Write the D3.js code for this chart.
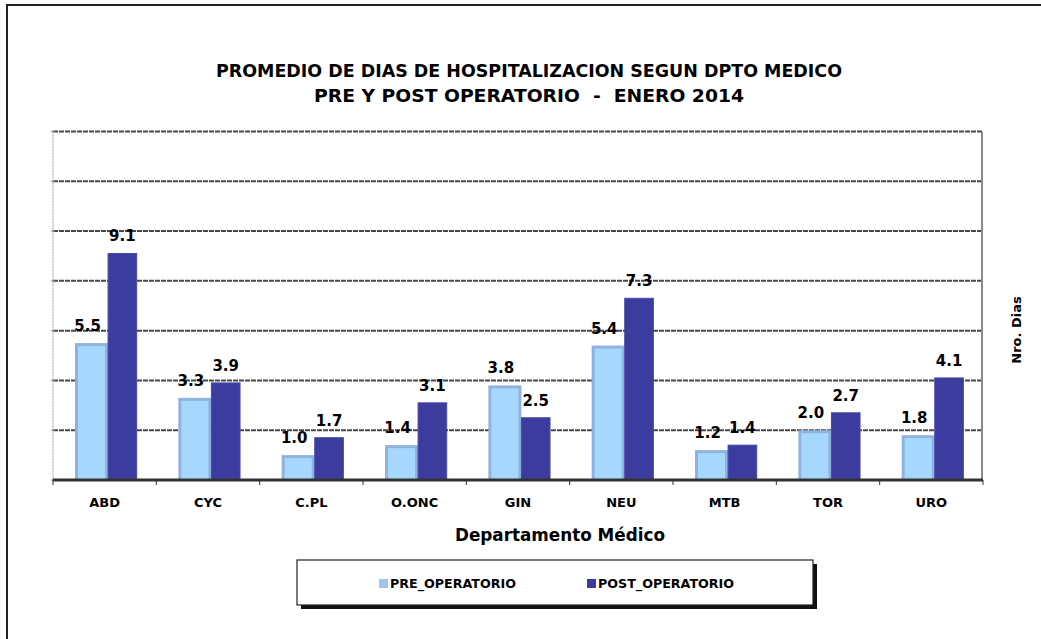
<!DOCTYPE html>
<html>
<head>
<meta charset="utf-8">
<script src="https://cdn.jsdelivr.net/npm/d3@7"></script>
<style>
  html, body { margin: 0; padding: 0; background: #fff; }
  svg { display: block; font-family: "DejaVu Sans", Verdana, sans-serif; }
</style>
</head>
<body>
<svg id="chart" width="1041" height="639"></svg>
<script>
// chart data
const categories = ["ABD", "CYC", "C.PL", "O.ONC", "GIN", "NEU", "MTB", "TOR", "URO"];
const preValues = [5.5, 3.3, 1.0, 1.4, 3.8, 5.4, 1.2, 2.0, 1.8];
const postValues = [9.1, 3.9, 1.7, 3.1, 2.5, 7.3, 1.4, 2.7, 4.1];
const seriesNames = ["PRE_OPERATORIO", "POST_OPERATORIO"];
const yTicks = [0, 2, 4, 6, 8, 10, 12, 14];
const titleLines = ["PROMEDIO DE DIAS DE HOSPITALIZACION SEGUN DPTO MEDICO", "PRE Y POST OPERATORIO  -  ENERO 2014"];

// colours
const preColor = "#a5d8fc";
const preEdgeColor = "#8fb3de";
const postColor = "#3c3c9f";
const gridColor = "#474747";

const svg = d3.select("#chart");

// plot area
const plotLeft = 53, plotRight = 983, plotTop = 131.5, plotBottom = 480;

const x = d3.scaleBand()
    .domain(categories)
    .range([plotLeft, plotRight])
    .padding(0);

const y = d3.scaleLinear()
    .domain([0, 14])
    .range([plotBottom, plotTop]);

// outer chart border
svg.append("rect")
    .attr("x", 7).attr("y", 5)
    .attr("width", 1200).attr("height", 800)
    .attr("fill", "none")
    .attr("stroke", "#222")
    .attr("stroke-width", 2);

// title
svg.append("g")
    .selectAll("text")
    .data(titleLines)
    .join("text")
    .attr("x", 529)
    .attr("y", (_d, i) => 77 + i * 25)
    .attr("text-anchor", "middle")
    .attr("font-size", 17)
    .attr("font-weight", "bold")
    .style("white-space", "pre")
    .attr("textLength", (_d, i) => i === 0 ? 626 : 430)
    .attr("lengthAdjust", "spacingAndGlyphs")
    .text(d => d);

// gridlines
svg.append("g")
    .selectAll("line")
    .data(yTicks.filter(t => t > 0))
    .join("line")
    .attr("x1", plotLeft).attr("x2", plotRight)
    .attr("y1", d => y(d)).attr("y2", d => y(d))
    .attr("stroke", gridColor)
    .attr("stroke-width", 2)
    .attr("stroke-dasharray", "5,1");

// left axis (light dotted) and right wall
svg.append("line")
    .attr("x1", plotLeft).attr("x2", plotLeft)
    .attr("y1", plotTop).attr("y2", plotBottom)
    .attr("stroke", "#aaa")
    .attr("stroke-width", 1.2)
    .attr("stroke-dasharray", "2,1");
svg.append("g")
    .selectAll("line")
    .data(yTicks)
    .join("line")
    .attr("x1", plotLeft - 2).attr("x2", plotLeft + 2)
    .attr("y1", d => y(d)).attr("y2", d => y(d))
    .attr("stroke", "#888");
svg.append("line")
    .attr("x1", plotRight - 1).attr("x2", plotRight - 1)
    .attr("y1", plotTop).attr("y2", plotBottom)
    .attr("stroke", "#8a8a8a")
    .attr("stroke-width", 2);

// bars
const bw = x.bandwidth();
const preX = d => x(d) + bw * 0.213;
const preW = bw * 0.32;
const postX = d => x(d) + bw * 0.533;
const postW = bw * 0.277;
const edge = 3;

const preBars = svg.append("g")
    .selectAll("g")
    .data(categories.map((c, i) => ({ cat: c, value: preValues[i] })))
    .join("g");
preBars.append("rect")
    .attr("x", d => preX(d.cat))
    .attr("y", d => y(d.value))
    .attr("width", preW)
    .attr("height", d => plotBottom - y(d.value))
    .attr("fill", preEdgeColor);
preBars.append("rect")
    .attr("x", d => preX(d.cat) + edge)
    .attr("y", d => y(d.value) + edge)
    .attr("width", preW - 2 * edge)
    .attr("height", d => plotBottom - y(d.value) - edge)
    .attr("fill", preColor);

svg.append("g")
    .selectAll("rect")
    .data(categories.map((c, i) => ({ cat: c, value: postValues[i] })))
    .join("rect")
    .attr("x", d => postX(d.cat))
    .attr("y", d => y(d.value))
    .attr("width", postW)
    .attr("height", d => plotBottom - y(d.value))
    .attr("fill", postColor)
    .attr("stroke", "#4848aa")
    .attr("stroke-width", 1);

// baseline
svg.append("line")
    .attr("x1", plotLeft).attr("x2", plotRight)
    .attr("y1", plotBottom).attr("y2", plotBottom)
    .attr("stroke", "#333")
    .attr("stroke-width", 3);

// category ticks
svg.append("g")
    .selectAll("line")
    .data(categories.concat(["end"]))
    .join("line")
    .attr("x1", (d, i) => i < categories.length ? x(d) : plotRight)
    .attr("x2", (d, i) => i < categories.length ? x(d) : plotRight)
    .attr("y1", plotBottom).attr("y2", plotBottom + 5)
    .attr("stroke", "#333")
    .attr("stroke-width", 1);

// value labels
const labelStyle = sel => sel
    .attr("text-anchor", "middle")
    .attr("font-size", 15)
    .attr("font-weight", "bold")
    .attr("fill", "#000");

svg.append("g")
    .selectAll("text")
    .data(preValues)
    .join("text")
    .attr("x", (_d, i) => preX(categories[i]) + preW / 2 - 4)
    .attr("y", d => y(d) - 12)
    .text(d => d.toFixed(1))
    .call(labelStyle);

svg.append("g")
    .selectAll("text")
    .data(postValues)
    .join("text")
    .attr("x", (_d, i) => postX(categories[i]) + postW / 2)
    .attr("y", d => y(d) - 12)
    .text(d => d.toFixed(1))
    .call(labelStyle);

// category labels
svg.append("g")
    .selectAll("text")
    .data(categories)
    .join("text")
    .attr("x", d => x(d) + bw / 2)
    .attr("y", 507)
    .attr("text-anchor", "middle")
    .attr("font-size", 13)
    .attr("font-weight", "bold")
    .text(d => d);

// axis titles
svg.append("text")
    .attr("x", 560)
    .attr("y", 541)
    .attr("text-anchor", "middle")
    .attr("font-size", 18)
    .attr("font-weight", "bold")
    .attr("textLength", 210)
    .attr("lengthAdjust", "spacingAndGlyphs")
    .text("Departamento Médico");

svg.append("text")
    .attr("transform", "translate(1021,330) rotate(-90)")
    .attr("text-anchor", "middle")
    .attr("font-size", 13)
    .attr("font-weight", "bold")
    .text("Nro. Dias");

// legend
const legend = svg.append("g");
legend.append("rect")
    .attr("x", 301).attr("y", 564)
    .attr("width", 516).attr("height", 45)
    .attr("fill", "#111");
legend.append("rect")
    .attr("x", 297).attr("y", 560)
    .attr("width", 516).attr("height", 45)
    .attr("fill", "#fff")
    .attr("stroke", "#222")
    .attr("stroke-width", 1.2);

const legendItems = [
    { name: seriesNames[0], color: "#9fc3ea", x: 379, len: 126 },
    { name: seriesNames[1], color: postColor, x: 587, len: 136 }
];
const item = legend.selectAll("g.item")
    .data(legendItems)
    .join("g")
    .attr("class", "item");
item.append("rect")
    .attr("x", d => d.x).attr("y", 579)
    .attr("width", 9).attr("height", 9)
    .attr("fill", d => d.color);
item.append("text")
    .attr("x", d => d.x + 11)
    .attr("y", 588)
    .attr("font-size", 12)
    .attr("font-weight", "bold")
    .attr("textLength", d => d.len)
    .attr("lengthAdjust", "spacingAndGlyphs")
    .text(d => d.name);
</script>
</body>
</html>
